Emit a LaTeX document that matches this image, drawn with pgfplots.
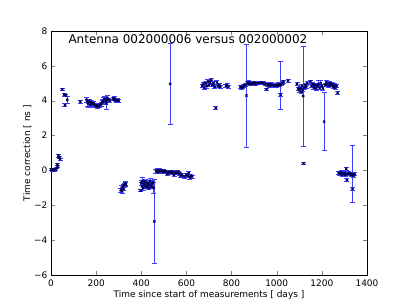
\documentclass[border=0pt]{standalone}
\usepackage{pgfplots}
\pgfplotsset{compat=1.18}
\usepackage{pgfplotstable}
\usepackage{fontspec}
\setmainfont{DejaVu Sans}
\pgfplotstableread{
x y e
2 0.05 0.05
6 0.02 0.05
10 0.05 0.05
14 0.0 0.05
18 0.05 0.05
22 0.08 0.05
26 0.15 0.05
28 0.35 0.08
30 0.25 0.05
33 0.85 0.08
36 0.75 0.05
40 0.65 0.05
50 4.65 0.08
58 4.35 0.08
62 3.75 0.08
66 4.3 0.08
72 4.05 0.2
130 3.95 0.08
158 4.05 0.15
162 3.9 0.2
166 3.85 0.25
170 4.0 0.1
174 3.75 0.15
178 3.9 0.1
182 3.85 0.1
186 3.8 0.1
190 3.85 0.1
194 3.75 0.08
198 3.7 0.08
202 3.75 0.08
206 3.65 0.08
210 3.7 0.08
214 3.7 0.08
218 3.75 0.08
222 3.8 0.1
226 3.9 0.1
230 3.95 0.1
234 4.05 0.15
238 4.1 0.15
242 4.0 0.2
246 3.85 0.35
250 4.15 0.15
254 4.05 0.1
260 4.0 0.1
275 4.1 0.08
280 4.15 0.08
285 4.05 0.08
290 4.0 0.08
295 4.05 0.08
300 4.0 0.08
310 -1.15 0.1
313 -1.0 0.12
316 -1.2 0.1
319 -0.9 0.1
322 -1.05 0.1
325 -0.85 0.1
328 -0.75 0.1
332 -0.8 0.1
397 -1.15 0.08
400 -0.7 0.15
403 -0.9 0.2
406 -0.6 0.2
409 -1.0 0.15
412 -0.75 0.2
415 -0.85 0.15
418 -0.65 0.15
421 -0.95 0.1
424 -0.7 0.1
427 -0.9 0.15
430 -0.75 0.15
433 -1.0 0.1
436 -0.8 0.1
439 -0.6 0.15
442 -0.9 0.15
445 -0.75 0.1
448 -0.95 0.1
451 -0.7 0.1
455 -1.0 0.3
458 -2.93 2.42
465 -0.05 0.1
470 0.0 0.1
475 -0.1 0.08
480 0.02 0.08
485 -0.05 0.08
490 0.0 0.08
495 -0.08 0.08
500 -0.02 0.08
505 -0.1 0.08
510 -0.05 0.08
515 -0.2 0.08
520 -0.08 0.08
525 -0.1 0.08
530 -0.12 0.08
535 -0.05 0.08
540 -0.15 0.08
545 -0.25 0.08
550 -0.1 0.08
555 -0.15 0.08
560 -0.08 0.08
565 -0.12 0.08
570 -0.2 0.08
575 -0.3 0.08
580 -0.25 0.08
590 -0.35 0.08
600 -0.25 0.08
605 -0.3 0.08
610 -0.15 0.1
615 -0.4 0.1
620 -0.3 0.1
625 -0.35 0.08
528 4.97 2.33
670 4.85 0.08
675 4.95 0.1
680 4.75 0.1
685 5.0 0.1
690 4.85 0.15
695 5.1 0.1
700 4.9 0.1
705 5.05 0.1
710 5.2 0.1
715 4.9 0.1
720 5.0 0.1
725 4.8 0.1
730 3.6 0.08
735 5.05 0.1
740 4.85 0.1
745 4.9 0.1
750 4.8 0.08
775 4.85 0.08
780 4.9 0.08
785 4.8 0.08
840 4.8 0.08
845 4.75 0.08
850 4.8 0.08
855 4.85 0.08
860 4.9 0.08
866 4.3 2.95
870 5.0 0.1
875 5.05 0.1
880 4.95 0.1
885 5.0 0.08
890 4.95 0.08
895 5.0 0.08
900 5.05 0.08
905 4.95 0.08
910 5.0 0.08
920 5.0 0.08
930 5.05 0.08
940 5.0 0.08
950 4.95 0.08
955 4.65 0.08
960 4.9 0.08
965 4.95 0.08
970 4.85 0.08
975 4.95 0.08
980 4.9 0.08
990 4.85 0.08
995 4.9 0.08
1000 4.85 0.08
1005 4.9 0.08
1010 4.95 0.08
1015 4.87 1.38
1017 4.35 0.08
1020 4.95 0.1
1025 5.0 0.08
1030 5.1 0.08
1050 5.15 0.08
1090 4.95 0.08
1095 4.7 0.08
1100 4.6 0.1
1105 4.7 0.1
1110 4.5 0.1
1112 4.85 0.1
1115 4.65 0.1
1117 4.27 2.87
1119 0.4 0.08
1122 4.75 0.1
1126 4.9 0.1
1130 4.8 0.1
1135 5.0 0.08
1150 5.1 0.08
1155 4.85 0.1
1160 4.95 0.1
1165 4.75 0.1
1170 4.9 0.1
1175 4.7 0.1
1180 4.85 0.1
1185 4.95 0.2
1190 4.75 0.1
1195 5.0 0.15
1200 4.85 0.1
1205 4.7 0.1
1210 2.8 1.65
1215 4.9 0.1
1220 5.05 0.1
1225 4.95 0.1
1230 4.85 0.1
1235 5.0 0.1
1240 4.9 0.1
1245 4.95 0.08
1250 4.8 0.08
1255 4.9 0.08
1260 4.75 0.08
1265 4.85 0.08
1270 4.45 0.08
1275 -0.15 0.08
1280 -0.2 0.08
1285 -0.1 0.08
1290 -0.25 0.08
1295 -0.2 0.08
1300 -0.15 0.08
1305 -0.25 0.08
1308 0.1 0.08
1311 -0.55 0.08
1315 -0.2 0.08
1320 -0.15 0.08
1325 -0.2 0.08
1330 -0.25 0.08
1334 -0.2 1.65
1336 -1.05 0.08
1340 -0.3 0.08
1345 -0.2 0.08
}\data
\begin{document}
\begin{tikzpicture}
\path[use as bounding box] (-51pt,-31pt) rectangle (356pt,275pt);
\begin{axis}[
  at={(0pt,0pt)}, anchor=south west,
  scale only axis, width=316pt, height=244pt,
  xmin=0, xmax=1400, ymin=-6, ymax=8,
  xtick={0,200,...,1400},
  ytick={-6,-4,-2,0,2,4,6,8},
  yticklabels={−6,−4,−2,0,2,4,6,8},
  /pgf/number format/assume math mode=true,
  /pgf/number format/1000 sep={},
  tick label style={font=\fontsize{9}{10}\selectfont},
  xticklabel style={yshift=-1pt},
  label style={font=\fontsize{9}{10}\selectfont},
  xlabel={Time since start of measurements [ days ]},
  ylabel={Time correction [ ns ]},
  xlabel style={yshift=3pt},
  ylabel style={yshift=-4pt},
  tick align=inside,
  major tick length=4pt,
  axis line style={line width=0.8pt},
  clip=false,
]
\addplot[only marks, mark=x, mark size=1.5pt, color=blue!30!black, mark options={line width=1pt},
  error bars/.cd, y dir=both, y explicit,
  error bar style={blue!75, line width=0.8pt},
  error mark options={rotate=90, blue!75, mark size=2.5pt, line width=0.8pt}]
  table[x=x, y=y, y error=e] {\data};
\node[anchor=west, font=\fontsize{12}{14}\selectfont] at (axis cs:62,7.55) {Antenna 002000006 versus 002000002};
\end{axis}
\end{tikzpicture}
\end{document}
